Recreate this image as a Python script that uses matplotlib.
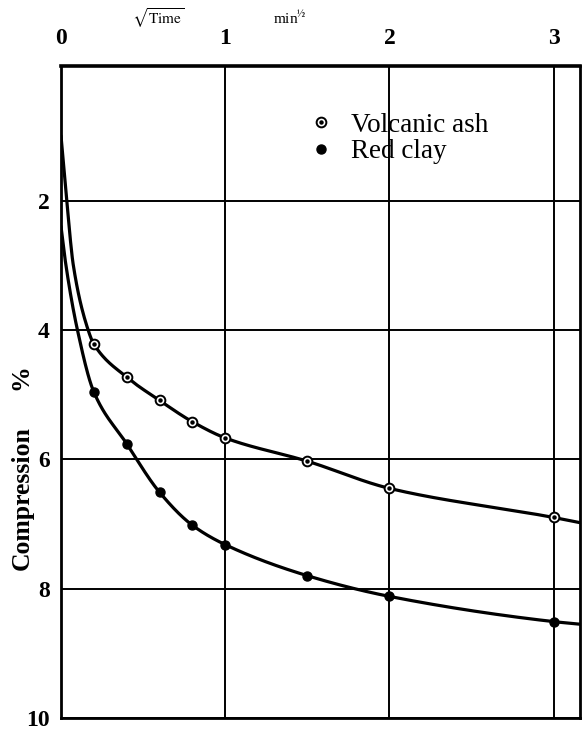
import numpy as np
import matplotlib
matplotlib.use("Agg")
import matplotlib.pyplot as plt
from matplotlib.font_manager import FontProperties

plt.rcParams['font.family'] = ['Liberation Serif', 'DejaVu Serif']
plt.rcParams['mathtext.fontset'] = 'stix'

# measured points (square root of time in min^1/2, compression in %)
sqrt_time = [0.2, 0.4, 0.6, 0.8, 1.0, 1.5, 2.0, 3.0]
ash = [4.22, 4.73, 5.09, 5.42, 5.67, 6.03, 6.45, 6.90]
clay = [4.96, 5.76, 6.51, 7.02, 7.32, 7.80, 8.12, 8.51]

# extra points (start near t=0 and right edge)
ash_start_x = [0.0, 0.035, 0.075, 0.165]
ash_start_y = [1.0, 2.0, 3.0, 4.0]
clay_start_x = [0.0, 0.03, 0.10]
clay_start_y = [2.4, 3.0, 4.0]
end_x = 3.16
ash_end_y = 6.98
clay_end_y = 8.55

x_ticks = [0, 1, 2, 3]
y_ticks = [2, 4, 6, 8, 10]


def pchip(x, y, xn):
    # monotone cubic through the traced points, only used to draw a smooth line
    x = np.asarray(x, float)
    y = np.asarray(y, float)
    h = np.diff(x)
    d = np.diff(y) / h
    m = np.zeros_like(y)
    m[0], m[-1] = d[0], d[-1]
    for k in range(1, len(x) - 1):
        if d[k - 1] * d[k] > 0:
            w1 = 2 * h[k] + h[k - 1]
            w2 = h[k] + 2 * h[k - 1]
            m[k] = (w1 + w2) / (w1 / d[k - 1] + w2 / d[k])
    idx = np.clip(np.searchsorted(x, xn) - 1, 0, len(x) - 2)
    t = (xn - x[idx]) / h[idx]
    h00 = 2 * t**3 - 3 * t**2 + 1
    h10 = t**3 - 2 * t**2 + t
    h01 = -2 * t**3 + 3 * t**2
    h11 = t**3 - t**2
    return h00 * y[idx] + h10 * h[idx] * m[idx] + h01 * y[idx + 1] + h11 * h[idx] * m[idx + 1]


fig = plt.figure(figsize=(5.83, 7.33), dpi=100)
ax = fig.add_axes([61 / 583, 15 / 733, 519 / 583, 652 / 733])

for x0, y0, ys, y_end in [(ash_start_x, ash_start_y, ash, ash_end_y),
                          (clay_start_x, clay_start_y, clay, clay_end_y)]:
    cx = list(x0) + sqrt_time + [end_x]
    cy = list(y0) + ys + [y_end]
    xn = np.linspace(0, end_x, 600)
    ax.plot(xn, pchip(cx, cy, xn), color='black', lw=2.3, solid_capstyle='round', zorder=3)

h_ash_o, = ax.plot(sqrt_time, ash, linestyle='None', marker='o', ms=7, mfc='white',
                   mec='black', mew=1.4, zorder=4)
h_ash_dot, = ax.plot(sqrt_time, ash, linestyle='None', marker='o', ms=2.2, color='black', zorder=5)
h_clay, = ax.plot(sqrt_time, clay, linestyle='None', marker='o', ms=6.5, color='black', zorder=4)

ax.set_xlim(0, 3.16)
ax.set_ylim(10, -0.08)
ax.xaxis.tick_top()
ax.set_xticks(x_ticks)
ax.set_yticks(y_ticks)
ax.tick_params(axis='both', length=0, labelsize=17)
ax.tick_params(axis='x', pad=12)
ax.tick_params(axis='y', pad=8)
for lbl in ax.get_xticklabels() + ax.get_yticklabels():
    lbl.set_fontweight('bold')
for lbl in ax.get_yticklabels():
    lbl.set_verticalalignment('center_baseline')

ax.grid(True, color='black', lw=1.4)
ax.set_axisbelow(True)
for side in ['left', 'right', 'bottom', 'top']:
    ax.spines[side].set_linewidth(2)
ax.spines['top'].set_linewidth(2.6)

ax.legend(handles=[(h_ash_o, h_ash_dot), h_clay], labels=['Volcanic ash', 'Red clay'],
          loc='upper left', bbox_to_anchor=(0.485, 0.928), frameon=False,
          prop=FontProperties(family='Liberation Serif', size=19.5),
          handlelength=0.6, handletextpad=0.8, labelspacing=0.05,
          borderpad=0, borderaxespad=0, numpoints=1)

fig.text(158 / 583, 1 - 18 / 733, r'$\sqrt{\mathrm{Time}}$', ha='center', va='center', fontsize=11)
fig.text(290 / 583, 1 - 18 / 733, r'min$^{½}$', ha='center', va='center', fontsize=11)

fig.text(22 / 583, 1 - 498 / 733, 'Compression', rotation=90, ha='center', va='center',
         fontsize=18.5, fontweight='bold')
fig.text(21 / 583, 1 - 377 / 733, '%', rotation=90, ha='center', va='center',
         fontsize=18.5, fontweight='bold')

fig.savefig('out.png', dpi=100)
